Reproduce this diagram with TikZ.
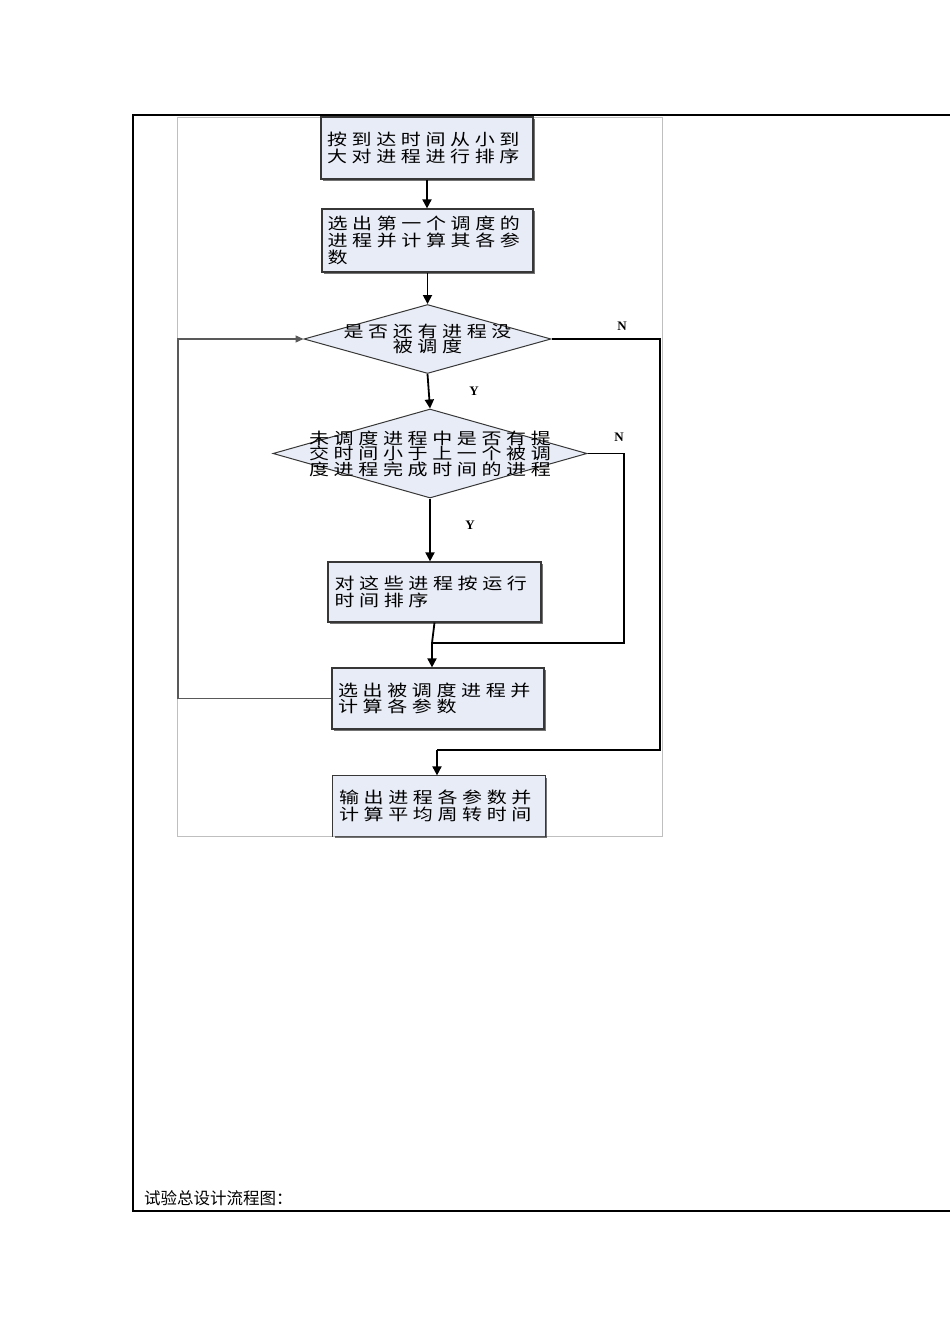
\documentclass[tikz,border=0pt]{standalone}
\usepackage{fontspec}
\setmainfont{Liberation Serif}
\newfontfamily\boxfont[FakeStretch=1.25,LetterSpace=29]{Noto Sans CJK SC}
\newfontfamily\capfont{Noto Sans CJK SC}
\usetikzlibrary{shapes.geometric,arrows.meta,shadows}
\definecolor{boxfill}{RGB}{232,236,246}
\definecolor{edge}{RGB}{55,55,55}
\begin{document}
\begin{tikzpicture}[x=1pt,y=-1pt,
  procbox/.style={draw=edge, line width=1.2pt, fill=boxfill, inner sep=0pt,
    text width=200pt, align=left, font={\boxfont\fontsize{16}{16.8}\selectfont},
    drop shadow={shadow xshift=1.6pt, shadow yshift=-1.6pt, fill=black, opacity=0.55}},
  decision/.style={shape=diamond, draw=edge, line width=1pt, fill=boxfill, inner sep=0pt},
  dtext/.style={inner sep=0pt, align=center, font={\boxfont\fontsize{16}{15.5}\selectfont}},
  lab/.style={inner sep=0pt, font={\bfseries\fontsize{13}{13}\selectfont}},
  arr/.style={line width=1.8pt, draw=black, -{Triangle[length=9pt,width=9pt]}},
  conn/.style={line width=1.8pt, draw=black},
  looparr/.style={line width=1.3pt, draw=black!65, -{Triangle[length=8pt,width=7pt]}}
]
\useasboundingbox[fill=white] (0,0) rectangle (950,1344);
% table frame
\draw[line width=1.3pt] (950,115) -- (133,115) -- (133,1211) -- (950,1211);
% picture frame
\draw[black!25, line width=0.8pt] (177,117) rectangle (662,836);

% nodes
\node[procbox, minimum width=212pt, minimum height=62pt] (b1) at (427,148)
  {按到达时间从小到\\大对进程进行排序};
\node[procbox, minimum width=211pt, minimum height=63pt] (b2) at (427.5,240.5)
  {选出第一个调度的\\进程并计算其各参\\数};
\node[decision, minimum width=247pt, minimum height=69pt] (d1) at (427.5,339) {};
\node[dtext] (d1t) at (d1) {是否还有进程没\\被调度};
\node[decision, minimum width=314pt, minimum height=89pt] (d2) at (430,453.5) {};
\node[dtext] (d2t) at (d2) {未调度进程中是否有提\\交时间小于上一个被调\\度进程完成时间的进程};
\node[procbox, minimum width=213pt, minimum height=60pt] (b3) at (434.5,592)
  {对这些进程按运行\\时间排序};
\node[procbox, minimum width=212pt, minimum height=61pt] (b4) at (438,698.5)
  {选出被调度进程并\\计算各参数};
\node[procbox, draw=none, minimum width=212pt, minimum height=60pt] (b5) at (439,806)
  {输出进程各参数并\\计算平均周转时间};
\draw[draw=edge, line width=1.2pt] (b5.south west) |- (b5.north east) -- (b5.south east);

% labels
\node[lab] (n1l) at (622,326) {N};
\node[lab] (y1l) at (474,391) {Y};
\node[lab] (n2l) at (619,437) {N};
\node[lab] (y2l) at (470,525) {Y};

% helper coordinates
\coordinate (j2) at (432,643);
\coordinate (n2) at (624,643);
\coordinate (n1) at (660,750);
\coordinate (j1) at (437,750);
\coordinate (l1) at (178,701);

% connectors
\draw[arr] (b1.south) -- (b1.south |- b2.north);
\draw[arr] (b2.south) -- (b2.south |- d1.north);
\draw[arr] (d1.south) -- (d2.north);
\draw[arr] (d2.south) -- (d2.south |- b3.north);
\draw[conn] (b3.south) -- (j2);
\draw[conn] (d2.east) -| (n2) -- (j2);
\draw[arr] (j2) -- (j2 |- b4.north);
\draw[conn] (d1.east) -| (n1) -- (j1);
\draw[arr] (j1) -- (j1 |- b5.north);
\draw[looparr] (b4.west) -- (l1 |- b4.west) |- (d1.west);
\node[anchor=west, inner sep=0pt, font={\capfont\fontsize{16.5}{16.5}\selectfont}] (cap) at (144,1198) {试验总设计流程图：};
\end{tikzpicture}
\end{document}
